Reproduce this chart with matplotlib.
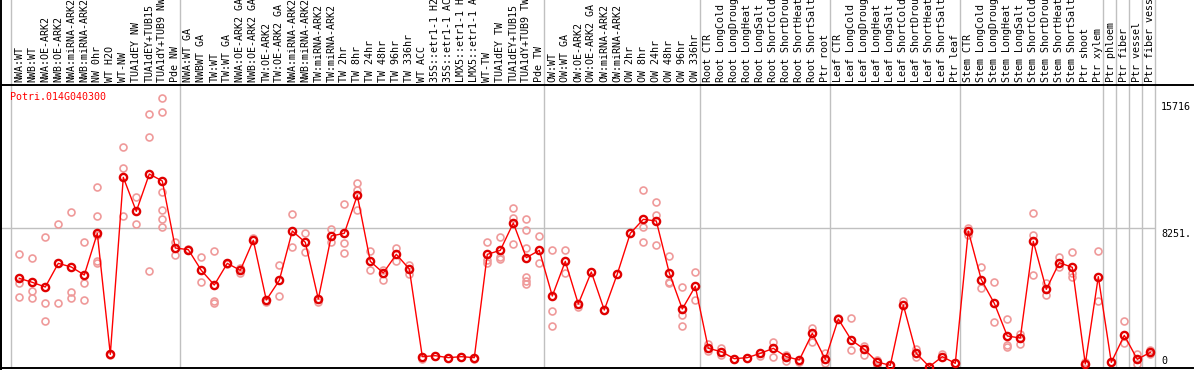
import matplotlib
matplotlib.use("Agg")
import matplotlib.pyplot as plt
import matplotlib.transforms as mtransforms

gene = "Potri.014G040300"

samples = [
    "NWA:WT", "NWB:WT", "NWA:OE-ARK2", "NWB:OE-ARK2", "NWA:miRNA-ARK2", "NWB:miRNA-ARK2",
    "NW 0hr", "WT H2O", "WT-NW", "TUA1dEY NW", "TUA1dEY+TUB15", "TUA1dY+TUB9 NW", "Pde NW",
    "NWA:WT GA", "NWBWT GA", "TW:WT", "TW:WT GA", "NWA:OE-ARK2 GA", "NWB:OE-ARK2 GA",
    "TW:OE-ARK2", "TW:OE-ARK2 GA", "NWA:miRNA-ARK2", "NWB:miRNA-ARK2", "TW:miRNA-ARK2",
    "TW:miRNA-ARK2", "TW 2hr", "TW 8hr", "TW 24hr", "TW 48hr", "TW 96hr", "TW 336hr",
    "WT ACC", "35S::etr1-1 H2", "35S::etr1-1 AC", "LMX5::etr1-1 H", "LMX5::etr1-1 A",
    "WT-TW", "TUA1dEY TW", "TUA1dEY+TUB15", "TUA1dY+TUB9 TW", "Pde TW",
    "OW:WT", "OW:WT GA", "OW:OE-ARK2", "OW:OE-ARK2 GA", "OW:miRNA-ARK2", "OW:miRNA-ARK2",
    "OW 2hr", "OW 8hr", "OW 24hr", "OW 48hr", "OW 96hr", "OW 336hr",
    "Root CTR", "Root LongCold", "Root LongDroug", "Root LongHeat", "Root LongSalt",
    "Root ShortCold", "Root ShortDrou", "Root ShortHeat", "Root ShortSalt", "Ptr root",
    "Leaf CTR", "Leaf LongCold", "Leaf LongDroug", "Leaf LongHeat", "Leaf LongSalt",
    "Leaf ShortCold", "Leaf ShortDrou", "Leaf ShortHeat", "Leaf ShortSalt", "Ptr leaf",
    "Stem CTR", "Stem LongCold", "Stem LongDroug", "Stem LongHeat", "Stem LongSalt",
    "Stem ShortCold", "Stem ShortDrou", "Stem ShortHeat", "Stem ShortSalt", "Ptr shoot",
    "Ptr xylem", "Ptr phloem", "Ptr fiber", "Ptr vessel", "Ptr fiber vessel",
]

means = [
    5273, 5038, 4763, 6155, 5940, 5469, 7920, 804, 11213, 9213, 11409, 10997, 7057,
    6959, 5744, 4881, 6155, 5744, 7508, 3999, 5156, 8057, 7390, 4058, 7763, 7920,
    10154, 6273, 5587, 6685, 5822, 667, 725, 608, 667, 608, 6685, 6920, 8527, 6489, 6920,
    4234, 6273, 3764, 5646, 3411, 5528, 7920, 8743, 8645, 5587, 3470, 4803,
    1157, 960, 549, 608, 862, 1157, 667, 470, 2039, 510,
    2882, 1647, 1098, 350, 157, 3705, 862, 78, 667, 274,
    8057, 5195, 3803, 1882, 1764, 7449, 4626, 6194, 5920, 235, 5371,
    333, 1921, 510, 921,
]

replicates = [
    [6704, 5018, 4155], [6449, 4528, 4097], [7684, 3803, 2764], [8449, 3803],
    [9154, 4469, 4097], [7390, 4979, 3999], [10625, 8919, 6312, 6155, 7821], [804, 760],
    [12977, 11742, 8919], [10037, 8449], [14918, 13565, 5704],
    [15859, 15035, 10331, 9292, 8743, 8272], [7410, 6665],
    [7018], [6528, 5058], [6861, 3940, 3803], [6155, 6100], [5861, 5606], [7665],
    [3862], [6057, 4234], [9037, 7096], [7920, 6802], [3862], [8155, 7390],
    [9625, 7332, 6743], [10860, 10468, 9292], [6900, 5744], [5763, 5195], [7057, 6312],
    [6077, 5548], [510], [700], [600], [640], [510],
    [7430, 6351, 6155], [7704, 6547, 6410], [9390, 8802, 7273],
    [8743, 8116, 7037, 5371, 5136, 4920], [7763, 6155],
    [6920, 3332, 2450], [6920, 5567], [3607], [5646], [3411], [5528], [7920],
    [10468, 8312, 7390], [9743, 8978, 7214], [6586, 5077, 4979], [4744, 3117, 2450],
    [5646, 3979],
    [1411, 1019], [1157, 764], [549], [608], [725], [1549, 667], [431, 764], [372],
    [2333, 1549], [862, 314],
    [2921], [2921, 1058], [1294, 764], [176, 450], [157], [3960], [1098, 667], [78],
    [823], [274],
    [8253, 7821], [5920, 4685], [5038, 2686], [2862, 1353, 1255], [1980, 1411],
    [9096, 7821, 5450], [4979, 4273], [6508, 5959], [6802, 5606, 5332], [372],
    [6861, 3960],
    [333], [2764, 1490], [804, 235], [1058, 804],
]

# first sample of each group (last entry closes the final group)
group_starts = [0, 13, 41, 53, 63, 73, 84, 85, 86, 87, 88]
y_max_label = "15716"
y_mid_label = "8251."
y_max_value = 15716
y_mid_value = 8251

W, H = 1194, 370
fig = plt.figure(figsize=(W / 100, H / 100), dpi=100)
ax = fig.add_axes([1 / W, 2 / H, 1192 / W, 283 / H])

mono = "DejaVu Sans Mono"
fs = 7.2
xs = list(range(len(samples)))

# replicate points
for i, reps in enumerate(replicates):
    ax.plot([i] * len(reps), reps, linestyle="none", marker="o", markersize=5.0,
            markerfacecolor="none", markeredgecolor="#ef9a9a", markeredgewidth=1.2,
            zorder=2)

# means
ax.plot(xs, means, color="#ff0000", linewidth=1.0, zorder=3)
ax.plot(xs, means, linestyle="none", marker="o", markersize=5.2,
        markerfacecolor="none", markeredgecolor="#e00000", markeredgewidth=1.7,
        zorder=4)

ax.set_xlim(-1.408, 90.285)
ax.set_ylim(0, 16643)

# group separators (run through the label area too)
blend = mtransforms.blended_transform_factory(ax.transData, ax.transAxes)
sep_x = [g - 8 / 13 for g in group_starts]
ax.vlines(sep_x, 0, 1.31, transform=blend, colors="#c0c0c0", linewidth=1.0,
          clip_on=False, zorder=1)
ax.hlines(y_mid_value, -1.408, sep_x[-1], colors="#c0c0c0", linewidth=1.0, zorder=1)

# sample labels
for i, name in enumerate(samples):
    ax.annotate(name, xy=(i, 1), xycoords=blend, xytext=(0, 2.2),
                textcoords="offset points", rotation=90, ha="center", va="bottom",
                fontsize=fs, family=mono, annotation_clip=False)

# gene name
ax.text(0.0075, 0.9576, gene, transform=ax.transAxes, color="#ff0000",
        fontsize=fs, family=mono, ha="left", va="center")

# right-hand value labels
rblend = mtransforms.blended_transform_factory(ax.transAxes, ax.transData)
ax.annotate(y_max_label, xy=(0.9732, y_max_value), xycoords=rblend, xytext=(0, -1.2),
            textcoords="offset points", ha="left", va="top", fontsize=fs, family=mono)
ax.annotate(y_mid_label, xy=(0.9732, y_mid_value), xycoords=rblend, xytext=(0, -1.2),
            textcoords="offset points", ha="left", va="top", fontsize=fs, family=mono)
ax.annotate("0", xy=(0.9732, 0), xycoords=rblend, xytext=(0, 1.5),
            textcoords="offset points", ha="left", va="bottom", fontsize=fs, family=mono)

ax.set_xticks([])
ax.set_yticks([])
for side in ["top", "left", "bottom"]:
    ax.spines[side].set_color("black")
    ax.spines[side].set_linewidth(1.4)
ax.spines["right"].set_visible(False)

# left border of the whole picture
fig.add_artist(plt.Line2D([1 / W, 1 / W], [0, 1], color="black", linewidth=1.4,
                          transform=fig.transFigure))

fig.savefig("out.png", dpi=100)
